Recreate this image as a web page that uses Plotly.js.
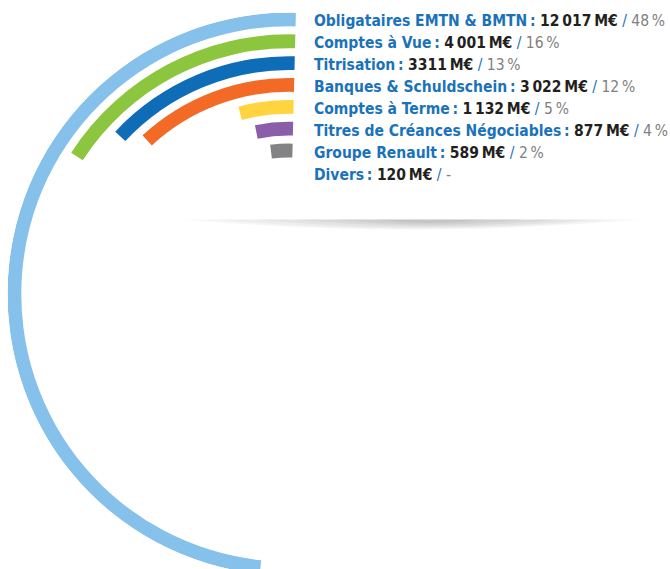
<!DOCTYPE html>
<html>
<head>
<meta charset="utf-8">
<script src="https://cdn.plot.ly/plotly-3.0.1.min.js"></script>
<style>
html, body { margin: 0; padding: 0; overflow: hidden; background: #fff; }
#chart { width: 670px; height: 600px; }
</style>
</head>
<body>
<div id="chart"></div>
<script>
// ---- data ----
const categories = [
  "Obligataires EMTN &amp; BMTN",
  "Comptes à Vue",
  "Titrisation",
  "Banques &amp; Schuldschein",
  "Comptes à Terme",
  "Titres de Créances Négociables",
  "Groupe Renault",
  "Divers"
];
const values = [12017, 4001, 3311, 3022, 1132, 877, 589, 120];
const valueLabels = ["12\u2009017", "4\u2009001", "3311", "3\u2009022", "1\u2009132", "877", "589", "120"];
const shareLabels = ["48\u2009%", "16\u2009%", "13\u2009%", "12\u2009%", "5\u2009%", "4\u2009%", "2\u2009%", "-"];
const colors = ["#85c1ea", "#8cc63f", "#0f6cb6", "#f26a25", "#ffd43e", "#8a5ea8", "#838385", "rgba(0,0,0,0)"];

// ---- geometry / style ----
const W = 670, H = 600;
const CX = 289, CY = 294, R = 281.5;   // polar centre and outer radius (px)
const STEP = 21.85, THICK = 13.8;
const START = -1.4, FULL = 366;        // angular start and degrees for the grand total
const BLUE = "#1a72bb", DARK = "#231f20", GREY = "#808080";
const FONT = "'DejaVu Sans Condensed', 'Liberation Sans Narrow', 'Arial Narrow', sans-serif";

const total = values.reduce((a, b) => a + b, 0);
const spans = values.map(v => v / total * FULL);

const trace = {
  type: "barpolar",
  r: values.map(() => THICK),
  base: values.map((v, i) => R - i * STEP - THICK),
  theta: spans.map(a => START + a / 2),
  width: spans,
  marker: { color: colors, line: { width: 0 } },
  hoverinfo: "skip",
  showlegend: false
};

// shadow under legend (stacked translucent lenses)
const shapes = [];
const lens = [[183, 640, 10, 0.05], [215, 615, 9, 0.05], [255, 590, 8, 0.06], [295, 560, 6.5, 0.07], [335, 525, 5, 0.08], [375, 485, 3.5, 0.09]];
lens.forEach(([x0, x1, d, op]) => {
  const xm = (x0 + x1) / 2;
  shapes.push({
    type: "path", xref: "x", yref: "y",
    path: `M ${x0} 219.5 L ${x1} 219.5 Q ${xm} ${219.5 + 2 * d} ${x0} 219.5 Z`,
    fillcolor: "#555", opacity: op, line: { width: 0 }
  });
});

const annotations = categories.map((c, i) => ({
  xref: "x", yref: "y", x: 312, y: 21 + i * 22,
  xanchor: "left", yanchor: "middle", showarrow: false,
  align: "left",
  font: { family: FONT, size: 15.5, color: BLUE },
  text: `<b>${c}\u2009:</b> <b><span style="color:${DARK}">${valueLabels[i]}\u2009M€</span></b> / <span style="color:${GREY}">${shareLabels[i]}</span>`
}));

const layout = {
  width: W, height: H,
  margin: { l: 0, r: 0, t: 0, b: 0 },
  paper_bgcolor: "#fff", plot_bgcolor: "rgba(0,0,0,0)",
  showlegend: false,
  xaxis: { range: [0, W], visible: false, fixedrange: true },
  yaxis: { range: [H, 0], visible: false, fixedrange: true },
  polar: {
    domain: { x: [(CX - R) / W, (CX + R) / W], y: [1 - (CY + R) / H, 1 - (CY - R) / H] },
    bgcolor: "rgba(0,0,0,0)",
    radialaxis: { range: [0, R], visible: false },
    angularaxis: { rotation: 90, direction: "counterclockwise", visible: false }
  },
  shapes: shapes,
  annotations: annotations
};

Plotly.newPlot("chart", [trace], layout, { staticPlot: true, displayModeBar: false });
</script>
</body>
</html>
